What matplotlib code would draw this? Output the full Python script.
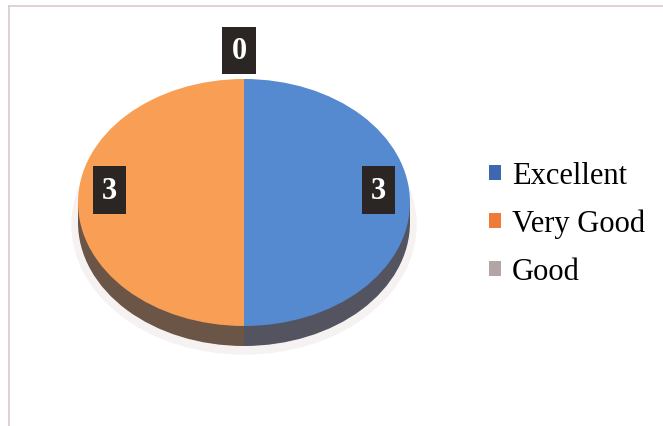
import matplotlib
matplotlib.use("Agg")
import matplotlib.pyplot as plt
from matplotlib.patches import Rectangle, Ellipse
from matplotlib.lines import Line2D
import numpy as np

categories = ["Excellent", "Very Good", "Good"]
values = [3, 3, 0]
top_colors = ["#5589D0", "#F89E55", "#A5A5A5"]
side_colors = ["#53545F", "#6A5547", "#777777"]
legend_colors = ["#3D67B0", "#F07A3A", "#B3A5A5"]

W, H = 663, 427
fig = plt.figure(figsize=(W / 100, H / 100), dpi=100)
fig.patch.set_facecolor("white")

# border (top and left visible)
fig.add_artist(Line2D([9 / W, 9 / W], [0, 1 - 7 / H], transform=fig.transFigure,
                      color="#d9c9cf", lw=1.2))
fig.add_artist(Line2D([9 / W, 1], [1 - 7 / H, 1 - 7 / H], transform=fig.transFigure,
                      color="#d9c9cf", lw=1.2))

# pie axes: top face ellipse bounds in pixels
x0, x1, y0, y1 = 78, 410, 80, 327
ax = fig.add_axes([x0 / W, 1 - y1 / H, (x1 - x0) / W, (y1 - y0) / H])
depth = 20 / ((y1 - y0) / 2)

# soft shadow
ax.add_patch(Ellipse((0, -depth - 0.02), 2.08, 2.1, facecolor="#f6f2f2", edgecolor="none",
                     zorder=0, clip_on=False))

# side (bottom) pie
side_w, _ = ax.pie(values, colors=side_colors, startangle=90, counterclock=False,
                   center=(0, -depth), radius=1, wedgeprops=dict(linewidth=0))
for w in side_w:
    w.set_clip_on(False)
    w.set_zorder(1)
ax.add_patch(Rectangle((-1, -depth), 1, depth, facecolor=side_colors[1], edgecolor="none",
                       zorder=1, clip_on=False))
ax.add_patch(Rectangle((0, -depth), 1, depth, facecolor=side_colors[0], edgecolor="none",
                       zorder=1, clip_on=False))

# top pie
top_w, _ = ax.pie(values, colors=top_colors, startangle=90, counterclock=False,
                  center=(0, 0), radius=1, wedgeprops=dict(linewidth=0))
for w in top_w:
    w.set_clip_on(False)
    w.set_zorder(2)

ax.set_aspect("auto")
ax.set_xlim(-1, 1)
ax.set_ylim(-1, 1)
ax.axis("off")

# data labels
for w, v in zip(top_w, values):
    ang = np.deg2rad((w.theta1 + w.theta2) / 2)
    if v == 0:
        r, dy = 1.23, 0.0
    else:
        r, dy = 0.81, 0.1
    ax.text(r * np.cos(ang) - (0.03 if v == 0 else 0), r * np.sin(ang) + dy, str(v),
            ha="center", va="center",
            fontsize=22, fontweight="bold", color="white", family="Liberation Serif",
            zorder=5, clip_on=False,
            bbox=dict(boxstyle="square,pad=0.3", facecolor="#2b2624", edgecolor="none"))

# legend
handles = [Rectangle((0, 0), 1, 1, facecolor=c, edgecolor="none") for c in legend_colors]
leg = fig.legend(handles, categories, loc="upper left",
                 bbox_to_anchor=(489 / W, 1 - 162 / H), frameon=False,
                 prop=dict(family="Liberation Serif", size=22),
                 handlelength=0.38, handleheight=0.38, handletextpad=0.36,
                 labelspacing=0.62, borderaxespad=0, borderpad=0)

fig.savefig("out.png", dpi=100, facecolor="white")
